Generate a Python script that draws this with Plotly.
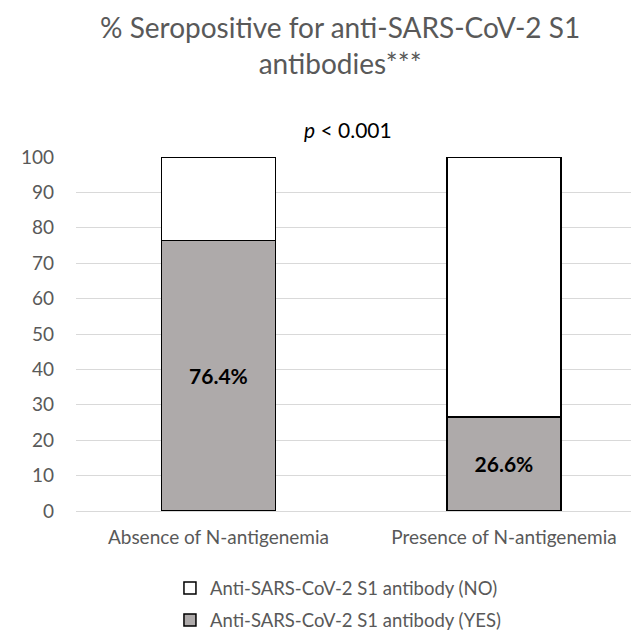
import plotly.graph_objects as go

categories = ["Absence of N-antigenemia", "Presence of N-antigenemia"]
yes_values = [76.4, 26.6]
no_values = [23.6, 73.4]
series_names = ["Anti-SARS-CoV-2 S1 antibody (YES)", "Anti-SARS-CoV-2 S1 antibody (NO)"]
y_ticks = list(range(0, 101, 10))

FONT = "Lato"
GRAY_TXT = "#595959"

fig = go.Figure()
fig.add_trace(go.Bar(
    x=categories, y=yes_values, name=series_names[0],
    marker=dict(color="#AEAAAA", line=dict(color="#000000", width=1.5)),
    width=0.40,
    text=[f"{v:.1f}%" for v in yes_values],
    textposition="inside", insidetextanchor="middle",
    textfont=dict(family=FONT, size=21, color="#000000", weight="bold"),
    legendgroup="yes", legendrank=2, hoverinfo="skip",
))
fig.add_trace(go.Bar(
    x=categories, y=no_values, name=series_names[1],
    marker=dict(color="#FFFFFF", line=dict(color="#000000", width=1.5)),
    width=0.40,
    legendgroup="no", legendrank=1, hoverinfo="skip",
))

fig.update_layout(
    width=631, height=631,
    barmode="stack",
    plot_bgcolor="white", paper_bgcolor="white",
    margin=dict(l=76, r=0, t=157, b=120, autoexpand=False),
    font=dict(family=FONT, color=GRAY_TXT),
    title=dict(
        text="% Seropositive for anti-SARS-CoV-2 S1<br>antibodies***",
        x=0.539, xanchor="center", xref="container",
        y=0.94, yanchor="top", yref="container",
        font=dict(family=FONT, size=28, color=GRAY_TXT),
    ),
    xaxis=dict(
        range=[-0.499, 1.445],
        showgrid=False, showline=True, linecolor="#D9D9D9", linewidth=1,
        tickfont=dict(family=FONT, size=19, color=GRAY_TXT),
        ticks="", ticklabelstandoff=9,
    ),
    yaxis=dict(
        range=[0, 100], tickvals=y_ticks,
        showgrid=True, gridcolor="#D9D9D9", gridwidth=1,
        zeroline=False, showline=False,
        tickfont=dict(family=FONT, size=19, color=GRAY_TXT),
        ticks="", ticklabelstandoff=21,
    ),
    legend=dict(
        orientation="v", traceorder="grouped",
        x=0.472, xanchor="center", y=-0.165, yanchor="top",
        font=dict(family=FONT, size=18.5, color=GRAY_TXT),
        tracegroupgap=5, itemwidth=30,
    ),
    annotations=[dict(
        text="<i>p</i> < 0.001", xref="paper", yref="paper",
        x=0.49, y=1.0, yanchor="bottom", xanchor="center", yshift=13,
        showarrow=False, font=dict(family=FONT, size=21, color="#000000"),
    )],
)

fig.write_html("out.html", config={"displayModeBar": False},
               post_script="document.body.style.margin='0';")
